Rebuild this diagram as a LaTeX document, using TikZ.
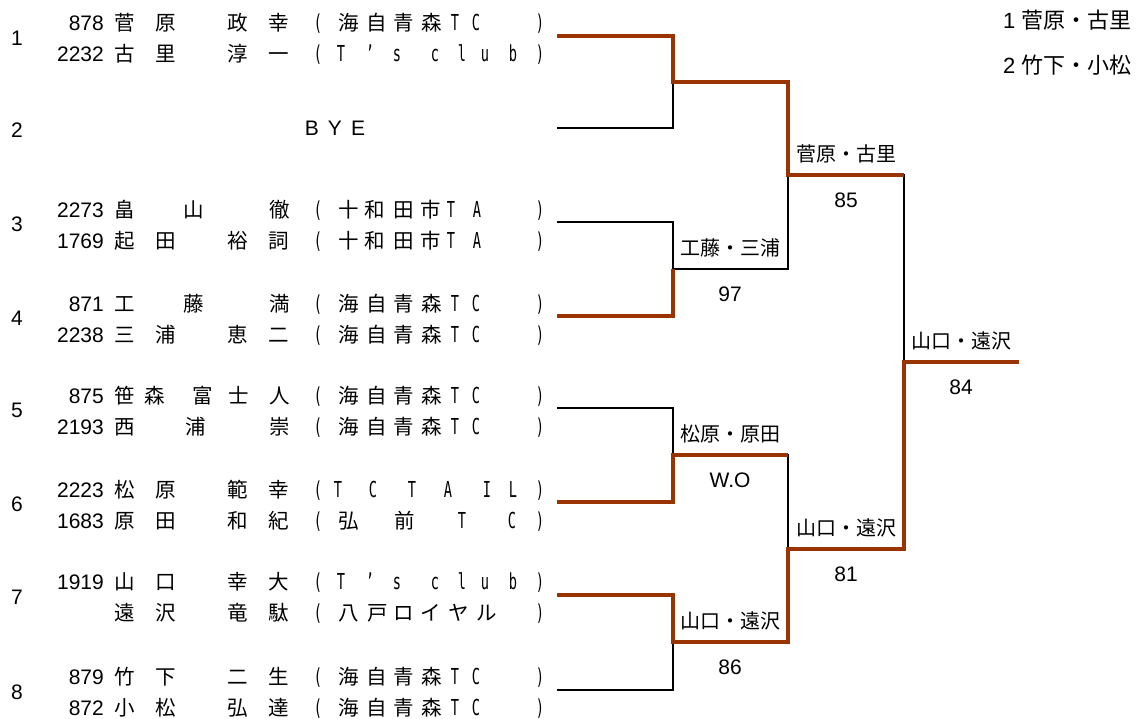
\documentclass[tikz,border=0pt]{standalone}
\usepackage{fontspec}
\setmainfont{Liberation Sans}
\newfontfamily\jp{Noto Sans CJK JP}
\newfontfamily\mono{DejaVu Sans Mono}
\usepackage{tikz}

\definecolor{wonc}{RGB}{153,51,0}

% half-width letters of the club names
\newcommand{\hw}[1]{\scalebox{0.62}[1]{\mono\fontsize{22}{26}\selectfont #1}}

% club names: x/char
\newcommand{\kaiji}{349/海,377/自,404/青,432/森,455/\hw{T},476/\hw{C}}
\newcommand{\tsclub}{341/\hw{T},370/\hw{’},397/\hw{s},435/\hw{c},462/\hw{l},485/\hw{u},513/\hw{b}}
\newcommand{\towada}{349/十,375/和,404/田,431/市,451/\hw{T},477/\hw{A}}
\newcommand{\tctail}{338/\hw{T},373/\hw{C},412/\hw{T},448/\hw{A},487/\hw{I},513/\hw{L}}
\newcommand{\hirosaki}{349/弘,405/前,462/\hw{T},512/\hw{C}}
\newcommand{\hachinohe}{349/八,378/戸,404/ロ,431/イ,459/ヤ,487/ル}

\tikzset{
  txt/.style={inner sep=0pt, anchor=base, yshift=-7.5pt,
    font=\fontsize{21}{25}\selectfont},
  jpc/.style={txt, font=\jp\fontsize{20.5}{25}\selectfont},
  lab/.style={txt, font=\jp\fontsize{20}{24}\selectfont},
  num/.style={txt, anchor=base east},
  seed/.style={txt, anchor=base west, font=\fontsize{22}{26}\selectfont},
  lost/.style={line width=1.8pt, black},
  won/.style={line width=3.3pt, wonc},
}

% one player line: y, number, name chars, club
\newcommand{\entry}[4]{%
  \node[num] (no#1) at (104,#1) {#2};
  \foreach \x/\c [count=\k] in {#3} \node[jpc] (nm#1-\k) at (\x,#1) {\c};
  \node[txt] (lp#1) at (318,#1) {\hw{(}};
  \foreach \x/\c [count=\k] in #4 \node[jpc] (tm#1-\k) at (\x,#1) {\c};
  \node[txt] (rp#1) at (540,#1) {\hw{)}};
}

\begin{document}
\begin{tikzpicture}[x=1pt,y=-1pt]
\useasboundingbox (0,0) rectangle (1143,719);

% draw numbers
\foreach \r/\y in {1/38,2/130,3/224,4/318,5/410,6/504,7/597,8/692}
  \node[txt] (r\r) at (17,\y) {\r};

% players
\entry{23}{878}{125/菅,166/原,238/政,279/幸}{\kaiji}
\entry{54}{2232}{125/古,166/里,238/淳,279/一}{\tsclub}
\node[txt] (bye) at (335,128) {B\hspace{9pt}Y\hspace{9pt}E};
\entry{210}{2273}{125/畠,194/山,280/徹}{\towada}
\entry{241}{1769}{125/起,166/田,238/裕,279/詞}{\towada}
\entry{304}{871}{125/工,194/藤,280/満}{\kaiji}
\entry{335}{2238}{125/三,166/浦,238/恵,279/二}{\kaiji}
\entry{396}{875}{125/笹,155/森,203/富,239/士,280/人}{\kaiji}
\entry{427}{2193}{125/西,196/浦,280/崇}{\kaiji}
\entry{490}{2223}{125/松,166/原,238/範,279/幸}{\tctail}
\entry{521}{1683}{125/原,166/田,238/和,279/紀}{\hirosaki}
\entry{582}{1919}{125/山,166/口,238/幸,279/大}{\tsclub}
\entry{613}{}{125/遠,166/沢,238/竜,279/駄}{\hachinohe}
\entry{677}{879}{125/竹,166/下,238/二,279/生}{\kaiji}
\entry{708}{872}{125/小,166/松,238/弘,279/達}{\kaiji}

% bracket points
\foreach \i/\y in {1/36,2/128,3/222,4/316,5/408,6/502,7/595,8/690}
  \coordinate (e\i) at (557,\y);
\coordinate (m1) at (673,82);
\coordinate (m2) at (673,269);
\coordinate (m3) at (673,455);
\coordinate (m4) at (673,642);
\coordinate (s1) at (788,175);
\coordinate (s2) at (788,549);
\coordinate (f) at (904,362);
\coordinate (champ) at (1019,362);

% losers
\draw[lost] (e2) -| (m1);
\draw[lost] (e3) -| (m2) -| (s1);
\draw[lost] (e5) -| (m3) -| (s2);
\draw[lost] (e8) -| (m4);
\draw[lost] (s1) -| (f);

% winners
\draw[won] (e1) -| (m1) -| (s1) -- (s1 -| f);
\draw[won] (e4) -| (m2);
\draw[won] (e6) -| (m3) -- (m3 -| s2);
\draw[won] (e7) -| (m4) -| (s2) -| (f) -- (champ);

% winners and scores
\foreach \n/\x/\y/\who/\sc in {1/730/269/工藤・三浦/97, 2/730/455/松原・原田/W.O,
    3/730/642/山口・遠沢/86, 4/846/175/菅原・古里/85,
    5/846/549/山口・遠沢/81, 6/961/362/山口・遠沢/84}{
  \node[lab] (w\n) at (\x,\y-21) {\who};
  \node[txt] (sc\n) at (\x,\y+25) {\sc};
}

% seeds
\node[seed] (seed1) at (1003,21) {1 {\jp 菅原・古里}};
\node[seed] (seed2) at (1003,66) {2 {\jp 竹下・小松}};

\end{tikzpicture}
\end{document}
